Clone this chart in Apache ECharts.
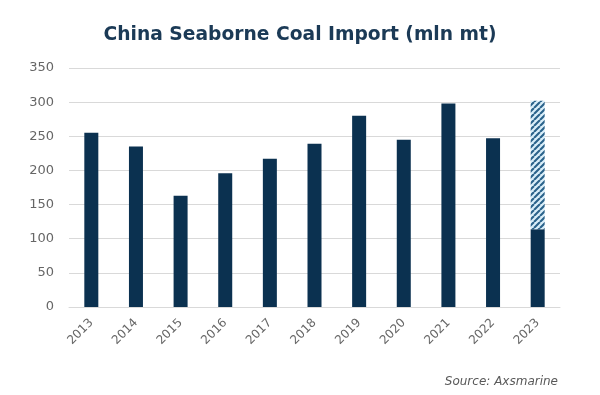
<!DOCTYPE html>
<html><head><meta charset="utf-8">
<script src="https://cdn.jsdelivr.net/npm/echarts@6/dist/echarts.min.js"></script>
<style>html,body{margin:0;padding:0;background:#fff}#c{width:600px;height:395px}</style>
</head><body><div id="c"></div>
<script>
const categories = ['2013','2014','2015','2016','2017','2018','2019','2020','2021','2022','2023'];
const actualValues = [255, 235, 163, 196, 217, 239, 280, 245, 298, 247, 114];
const forecastValues = [null, null, null, null, null, null, null, null, null, null, 188];
const yTicks = [0, 50, 100, 150, 200, 250, 300, 350];

function hatch() {
  const c = document.createElement('canvas');
  c.width = 6; c.height = 6;
  const g = c.getContext('2d');
  g.fillStyle = '#d9eef9'; g.fillRect(0, 0, 6, 6);
  g.strokeStyle = '#2a628a'; g.lineWidth = 2.1;
  g.beginPath();
  for (let k = -6; k <= 12; k += 6) { g.moveTo(k, 6); g.lineTo(k + 6, 0); }
  g.stroke();
  return c;
}

const chart = echarts.init(document.getElementById('c'));
chart.setOption({
  animation: false,
  title: [{
    text: 'China Seaborne Coal Import (mln mt)', left: 'center', top: 21,
    textStyle: { fontFamily: 'DejaVu Sans', fontWeight: 'bold', fontSize: 18.7, color: '#1b3a56' }
  }, {
    text: 'Source: Axsmarine', right: 37, top: 371,
    textStyle: { fontFamily: 'DejaVu Sans', fontStyle: 'italic', fontWeight: 'normal', fontSize: 12, color: '#595959' }
  }],
  grid: { left: 69, right: 40, top: 68, bottom: 88 },
  xAxis: {
    type: 'category', data: categories,
    axisLine: { lineStyle: { color: '#d9d9d9' } },
    axisTick: { show: false },
    axisLabel: { rotate: 45, color: '#666666', fontFamily: 'DejaVu Sans', fontSize: 12, margin: 14 }
  },
  yAxis: {
    type: 'value', min: yTicks[0], max: yTicks[yTicks.length - 1], interval: 50,
    axisLine: { show: false }, axisTick: { show: false },
    splitLine: { lineStyle: { color: '#d9d9d9', width: 1 } },
    axisLabel: { color: '#666666', fontFamily: 'DejaVu Sans', fontSize: 13, margin: 15 }
  },
  series: [{
    type: 'bar', stack: 'a', data: actualValues, barWidth: 14,
    itemStyle: { color: '#0b3150' }
  }, {
    type: 'bar', stack: 'a', data: forecastValues, barWidth: 14,
    itemStyle: { color: { image: hatch(), repeat: 'repeat' } }
  }]
});
</script></body></html>
